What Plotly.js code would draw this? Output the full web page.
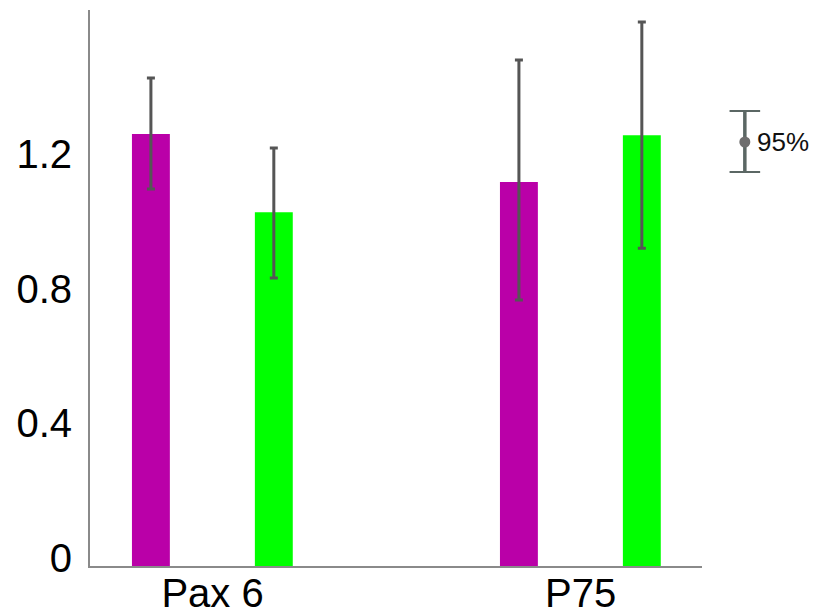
<!DOCTYPE html>
<html>
<head>
<meta charset="utf-8">
<script src="https://cdn.plot.ly/plotly-3.0.1.min.js"></script>
<style>html,body{margin:0;padding:0;background:#fff;}#chart{width:815px;height:612px;}</style>
</head>
<body>
<div id="chart"></div>
<script>
// ---- data ----
var categories = ["Pax 6", "P75"];
var seriesA = [1.284, 1.142];          // magenta bars
var seriesAErrPlus = [0.167, 0.362];
var seriesAErrMinus = [0.163, 0.351];
var seriesB = [1.052, 1.281];          // green bars
var seriesBErrPlus = [0.191, 0.336];
var seriesBErrMinus = [0.196, 0.336];
var yTickVals = [0, 0.4, 0.8, 1.2];
var yTickText = ["0", "0.4", "0.8", "1.2"];
var legendLabel = "95%";

var errStyle = {color: "#555555", thickness: 3, width: 4};
var traces = [
  {
    type: "bar", x: categories, y: seriesA,
    marker: {color: "#BA00A8"},
    width: 0.103, offset: -0.219,
    error_y: Object.assign({type: "data", symmetric: false, array: seriesAErrPlus, arrayminus: seriesAErrMinus}, errStyle),
    hoverinfo: "skip", showlegend: false
  },
  {
    type: "bar", x: categories, y: seriesB,
    marker: {color: "#00FF00"},
    width: 0.103, offset: 0.115,
    error_y: Object.assign({type: "data", symmetric: false, array: seriesBErrPlus, arrayminus: seriesBErrMinus}, errStyle),
    hoverinfo: "skip", showlegend: false
  }
];

var legCol = "#5b6764";
var layout = {
  width: 815, height: 612,
  margin: {l: 90, r: 113, t: 10, b: 46, pad: 0},
  paper_bgcolor: "#ffffff", plot_bgcolor: "#ffffff",
  font: {family: "Liberation Sans, Arial, sans-serif", color: "#000000"},
  barmode: "overlay",
  showlegend: false,
  xaxis: {
    type: "category", range: [-0.333, 1.33],
    showgrid: false, zeroline: false,
    showline: true, linecolor: "#8a8a8a", linewidth: 2,
    ticks: "", tickfont: {size: 40, color: "#000"}, ticklabelstandoff: -9
  },
  yaxis: {
    range: [0, 1.653],
    showgrid: false, zeroline: false,
    showline: true, linecolor: "#8a8a8a", linewidth: 2,
    ticks: "", tickmode: "array", tickvals: yTickVals, ticktext: yTickText,
    tickfont: {size: 40, color: "#000"}, ticklabelstandoff: 8, ticklabelshift: -8
  },
  shapes: [
    {type: "line", xref: "paper", yref: "paper", x0: 1.070, x1: 1.070, y0: 0.7086, y1: 0.8183, line: {color: legCol, width: 3.5}},
    {type: "line", xref: "paper", yref: "paper", x0: 1.045, x1: 1.095, y0: 0.8183, y1: 0.8183, line: {color: legCol, width: 2}},
    {type: "line", xref: "paper", yref: "paper", x0: 1.045, x1: 1.095, y0: 0.7086, y1: 0.7086, line: {color: legCol, width: 2}},
    {type: "circle", xref: "paper", yref: "paper", xsizemode: "pixel", ysizemode: "pixel",
     xanchor: 1.070, yanchor: 0.7626, x0: -5.5, x1: 5.5, y0: -5.5, y1: 5.5,
     fillcolor: "#6e6e6e", line: {width: 0}}
  ],
  annotations: [
    {xref: "paper", yref: "paper", x: 1.087, y: 0.7626, xanchor: "left", yanchor: "middle",
     text: legendLabel, showarrow: false, font: {size: 26, color: "#111"}}
  ]
};

Plotly.newPlot("chart", traces, layout, {staticPlot: true, displayModeBar: false});
</script>
</body>
</html>
